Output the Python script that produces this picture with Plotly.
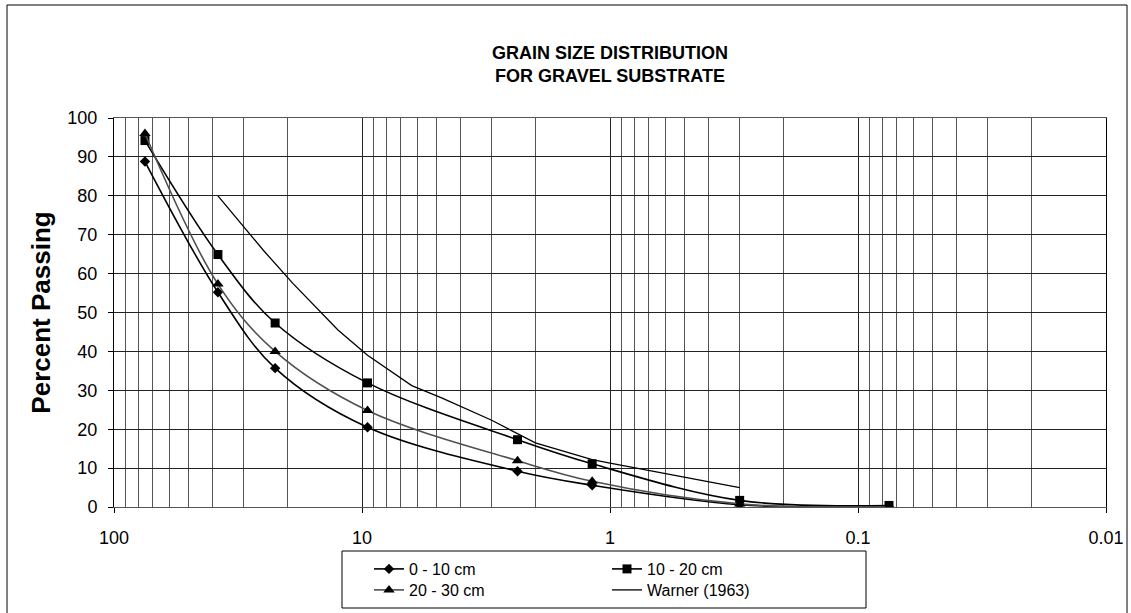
import plotly.graph_objects as go

# ---- data ----
sieve_mm = [75, 38.1, 22.4, 9.5, 2.36, 1.18, 0.3, 0.075]
pass_0_10 = [88.8, 55.2, 35.7, 20.5, 9.2, 5.6, 0.6, 0.0]
pass_10_20 = [94.2, 64.9, 47.3, 31.9, 17.3, 11.1, 1.7, 0.4]
pass_20_30 = [96.0, 57.3, 40.0, 24.8, 11.9, 6.6, 0.8, 0.0]

warner_mm = [38.1, 25, 19, 12.5, 9.5, 6.3, 4.75, 3, 2, 1.18, 1, 0.6, 0.425, 0.3]
warner_pass = [80, 66, 57.5, 45.5, 39, 31.2, 28.0, 22.3, 16.5, 12.2, 11.3, 8.7, 6.8, 5.0]

major_ticks = [100, 10, 1, 0.1, 0.01]
major_labels = ["100", "10", "1", "0.1", "0.01"]
minor_ticks = [m * d for d in (10, 1, 0.1, 0.01) for m in range(2, 10)]

FONT = "Arial, Liberation Sans, sans-serif"

fig = go.Figure()
fig.add_trace(go.Scatter(
    x=sieve_mm, y=pass_0_10, name="0 - 10 cm", mode="lines+markers",
    line=dict(color="black", width=1.6, shape="spline"),
    marker=dict(symbol="diamond", size=8, color="black"), legend="legend"))
fig.add_trace(go.Scatter(
    x=sieve_mm, y=pass_10_20, name="10 - 20 cm", mode="lines+markers",
    line=dict(color="black", width=1.6, shape="spline"),
    marker=dict(symbol="square", size=9, color="black"), legend="legend2"))
fig.add_trace(go.Scatter(
    x=sieve_mm, y=pass_20_30, name="20 - 30 cm", mode="lines+markers",
    line=dict(color="#505050", width=1.6, shape="spline"),
    marker=dict(symbol="triangle-up", size=10, color="black"), legend="legend3"))
fig.add_trace(go.Scatter(
    x=warner_mm, y=warner_pass, name="Warner (1963)", mode="lines",
    line=dict(color="black", width=1.3), legend="legend4"))

W, H = 1131, 613
L, R, T, B = 114, 25, 118, 106
pw, ph = W - L - R, H - T - B


def px(xp):
    return (xp - L) / pw


def py(yp):
    return (H - B - yp) / ph


leg_common = dict(bgcolor="rgba(0,0,0,0)", borderwidth=0, xanchor="left",
                  yanchor="middle", font=dict(family=FONT, size=16, color="black"))

fig.update_layout(
    width=W, height=H,
    margin=dict(l=L, r=R, t=T, b=B, autoexpand=False),
    paper_bgcolor="white", plot_bgcolor="white",
    font=dict(family=FONT, color="black"),
    title=dict(text="<b>GRAIN SIZE DISTRIBUTION<br>FOR GRAVEL SUBSTRATE</b>",
               x=0.5, xref="paper", xanchor="center",
               y=1 - 59 / H, yref="container", yanchor="middle",
               font=dict(family=FONT, size=18, color="black")),
    xaxis=dict(type="log", range=[2, -2], tickmode="array",
               tickvals=major_ticks, ticktext=major_labels,
               ticks="outside", ticklen=5, tickcolor="black",
               ticklabelstandoff=9,
               tickfont=dict(family=FONT, size=18, color="black"),
               showgrid=True, gridcolor="#222222", gridwidth=1,
               minor=dict(tickmode="array", tickvals=minor_ticks, showgrid=True,
                          gridcolor="#555555", gridwidth=1, ticks=""),
               showline=True, linecolor="#555555", linewidth=1, mirror=True,
               zeroline=False),
    yaxis=dict(range=[0, 100], tick0=0, dtick=10,
               ticks="outside", ticklen=5, tickcolor="black",
               ticklabelstandoff=7,
               tickfont=dict(family=FONT, size=18, color="black"),
               showgrid=True, gridcolor="#222222", gridwidth=1,
               showline=True, linecolor="black", linewidth=1, mirror=True,
               zeroline=False,
               title=dict(text="<b>Percent Passing</b>", standoff=9,
                          font=dict(family=FONT, size=26, color="black"))),
    legend=dict(x=px(369), y=py(569), **leg_common),
    legend2=dict(x=px(607), y=py(569), **leg_common),
    legend3=dict(x=px(369), y=py(590), **leg_common),
    legend4=dict(x=px(607), y=py(590), **leg_common),
    shapes=[
        dict(type="rect", xref="paper", yref="paper",
             x0=px(342), x1=px(866), y0=py(608), y1=py(551),
             line=dict(color="black", width=1), fillcolor="rgba(0,0,0,0)"),
        dict(type="rect", xref="paper", yref="paper",
             x0=px(7), x1=px(1127), y0=py(640), y1=py(5),
             line=dict(color="black", width=1), fillcolor="rgba(0,0,0,0)"),
    ],
    showlegend=True,
)

fig.write_html("out.html")
